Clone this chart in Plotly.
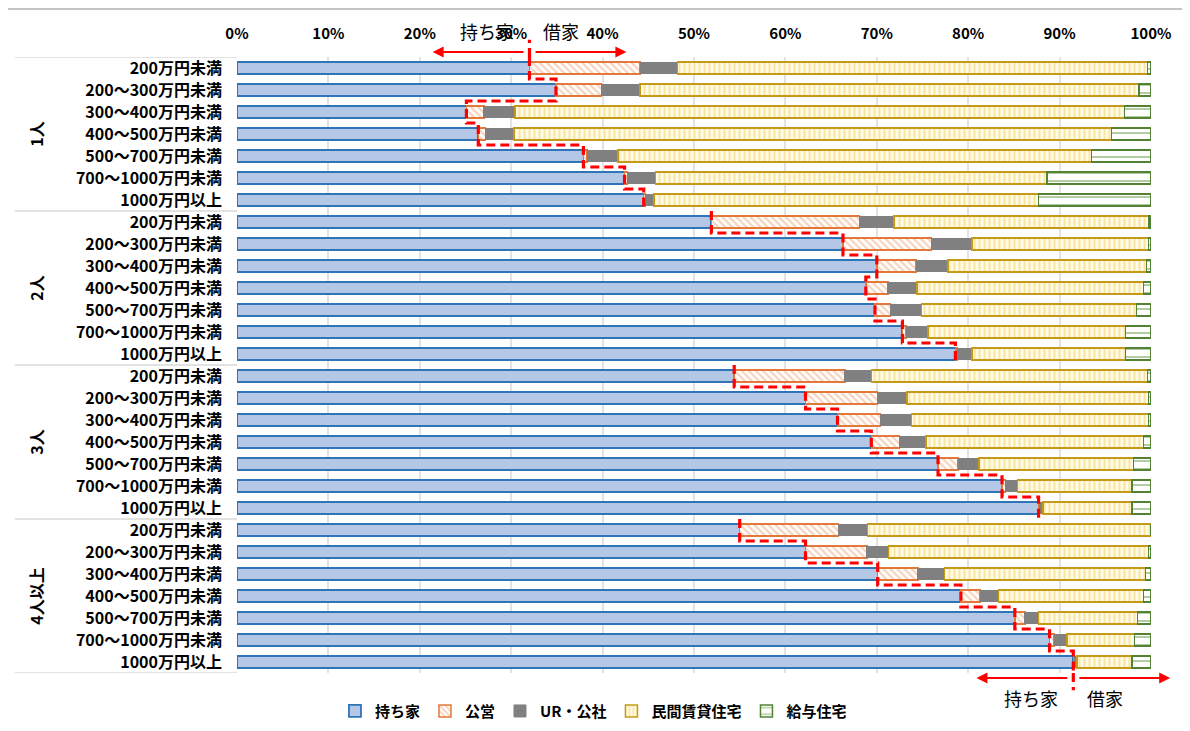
import plotly.graph_objects as go

# 世帯人員 x 年収階級
groups = ['1人', '2人', '3人', '4人以上']
income = ['200万円未満', '200～300万円未満', '300～400万円未満', '400～500万円未満',
          '500～700万円未満', '700～1000万円未満', '1000万円以上']

series = ['持ち家', '公営', 'UR・公社', '民間賃貸住宅', '給与住宅']

own = [32.0, 34.9, 25.1, 26.4, 37.9, 42.4, 44.5,
       51.9, 66.3, 70.0, 68.8, 69.8, 72.8, 78.6,
       54.4, 62.2, 65.7, 69.4, 76.7, 83.7, 87.7,
       55.0, 62.2, 70.1, 79.2, 85.1, 88.9, 91.5]
public = [12.1, 5.0, 1.9, 0.8, 0.4, 0.3, 0.2,
          16.2, 9.7, 4.3, 2.4, 1.7, 0.4, 0.2,
          12.1, 7.9, 4.7, 3.1, 2.2, 0.4, 0.1,
          10.8, 6.7, 4.4, 2.1, 1.1, 0.5, 0.1]
ur = [4.1, 4.2, 3.4, 3.1, 3.4, 3.1, 0.9,
      3.8, 4.4, 3.5, 3.2, 3.4, 2.4, 1.6,
      2.9, 3.2, 3.4, 2.9, 2.3, 1.3, 0.4,
      3.2, 2.4, 2.9, 2.0, 1.5, 1.4, 0.3]
private = [51.4, 54.6, 66.7, 65.4, 51.8, 42.8, 42.1,
           27.9, 19.3, 21.7, 24.8, 23.5, 21.6, 16.8,
           30.2, 26.4, 25.9, 23.8, 16.9, 12.5, 9.7,
           31.0, 28.4, 22.0, 15.9, 10.8, 7.4, 6.0]
company = [0.4, 1.3, 2.9, 4.3, 6.5, 11.4, 12.3,
           0.2, 0.3, 0.5, 0.8, 1.6, 2.8, 2.8,
           0.4, 0.3, 0.3, 0.8, 1.9, 2.1, 2.1,
           0.0, 0.3, 0.6, 0.8, 1.5, 1.8, 2.1]

ticks_x = [0, 10, 20, 30, 40, 50, 60, 70, 80, 90, 100]

FONT = 'Noto Sans CJK JP'
n = len(groups) * len(income)
pos = list(range(n))
labels = income * len(groups)

fig = go.Figure()

styles = [
    dict(color='#B4C7E7', line=dict(color='#2E75B6', width=1.8)),
    dict(color='#FFFFFF', line=dict(color='#E2783A', width=1.5),
         pattern=dict(shape='\\', fgcolor='#F4A57A', bgcolor='#FFFFFF', size=5, solidity=0.45)),
    dict(color='#808080', line=dict(color='#808080', width=1)),
    dict(color='#FFFFFF', line=dict(color='#C49A18', width=1.5),
         pattern=dict(shape='|', fgcolor='#F7CF4F', bgcolor='#FFFBEA', size=5, solidity=0.4)),
    dict(color='#FFFFFF', line=dict(color='#548235', width=1.5),
         pattern=dict(shape='-', fgcolor='#6A9A45', bgcolor='#FFFFFF', size=8, solidity=0.25)),
]

for name, vals, st in zip(series, [own, public, ur, private, company], styles):
    fig.add_trace(go.Bar(
        x=vals, y=pos, orientation='h', name=name,
        marker=st, hoverinfo='x+name',
    ))

# 持ち家/借家 の境界（階段状の赤破線）
for g in range(len(groups)):
    xs, ys = [], []
    for i in range(len(income)):
        k = g * len(income) + i
        xs += [own[k], own[k]]
        ys += [k - 0.5, k + 0.5]
    fig.add_trace(go.Scatter(
        x=xs, y=ys, mode='lines', showlegend=False, hoverinfo='skip',
        line=dict(color='#FF0000', width=3.2, dash='9px,5px'),
    ))

shapes = []
# グループ区切り線
for g in range(len(groups) + 1):
    shapes.append(dict(type='line', xref='paper', yref='y', x0=-0.243, x1=0,
                       y0=g * len(income) - 0.5, y1=g * len(income) - 0.5,
                       line=dict(color='#D9D9D9', width=1.5)))
# 外枠
shapes.append(dict(type='rect', xref='paper', yref='paper', x0=-0.2527, x1=1.045,
                   y0=-0.12, y1=1.078, line=dict(color='#B0B0B0', width=1.5)))
# 上下の境界マーク
shapes.append(dict(type='line', xref='x', yref='paper', x0=own[0], x1=own[0],
                   y0=1.0, y1=1.028, line=dict(color='#FF0000', width=3.2, dash='9px,5px')))
shapes.append(dict(type='line', xref='x', yref='paper', x0=own[-1], x1=own[-1],
                   y0=0.0, y1=-0.028, line=dict(color='#FF0000', width=3.2, dash='9px,5px')))

annotations = []
for g, name in enumerate(groups):
    annotations.append(dict(
        x=-0.2355, xref='paper', y=g * len(income) + 3, yref='y', text=name,
        textangle=-90, showarrow=False,
        font=dict(family=FONT, size=16, color='#000000', weight='bold'),
    ))

for ref, yy, ty in [(own[0], 1.008, 1.042), (own[-1], -0.008, -0.04)]:
    for sign in (-1, 1):
        annotations.append(dict(
            x=ref + sign * 10.6, y=yy, xref='x', yref='paper',
            ax=ref + sign * 0.5, ay=0, axref='x', ayref='pixel',
            showarrow=True, arrowhead=2, arrowsize=1.1, arrowwidth=2,
            arrowcolor='#FF0000', text='',
        ))
    annotations.append(dict(x=ref - 1.5, y=ty, xref='x', yref='paper', text='持ち家',
                            xanchor='right', yanchor='middle', showarrow=False,
                            font=dict(family=FONT, size=18, color='#000000')))
    annotations.append(dict(x=ref + 1.3, y=ty, xref='x', yref='paper', text='借家',
                            xanchor='left', yanchor='middle', showarrow=False,
                            font=dict(family=FONT, size=18, color='#000000')))

fig.update_layout(
    width=1190, height=731,
    barmode='stack', bargap=0.47,
    paper_bgcolor='white', plot_bgcolor='white',
    # the page body adds an 8px offset, so margins are shifted by that much
    margin=dict(l=229, r=47, t=49, b=66, autoexpand=False),
    font=dict(family=FONT, color='#000000'),
    xaxis=dict(
        side='top', range=[0, 100], tickvals=ticks_x,
        ticktext=[f'{v}%' for v in ticks_x],
        tickfont=dict(size=15, weight='bold', color='#000000'),
        showgrid=True, gridcolor='#E3E3E3', gridwidth=1.5,
        zeroline=False, showline=False, ticklabelstandoff=14, automargin=False,
    ),
    yaxis=dict(
        range=[n - 0.5, -0.5], tickvals=pos, ticktext=labels,
        tickfont=dict(size=16, weight='bold', color='#000000'),
        showgrid=False, zeroline=False, showline=False, ticklabelstandoff=14,
        automargin=False,
    ),
    legend=dict(
        orientation='h', x=0.39, xanchor='center', y=-0.062, yanchor='middle',
        font=dict(size=15, weight='bold', color='#000000'),
        itemwidth=30, traceorder='normal',
    ),
    shapes=shapes,
    annotations=annotations,
)

fig.write_html('out.html')
